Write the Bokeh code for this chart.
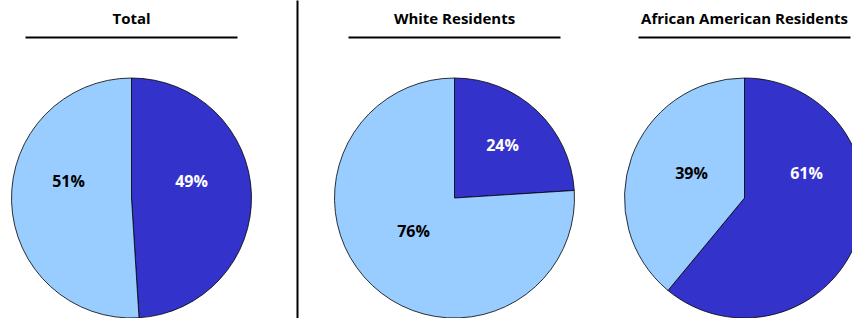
from bokeh.plotting import figure
from bokeh.models import Range1d, ColumnDataSource
from bokeh.core.properties import value
from bokeh.embed import file_html
from bokeh.resources import INLINE
import math

# ---- data ----
titles = ["Total", "White Residents", "African American Residents"]
categories = ["Dark", "Light"]
dark_share = [49, 24, 61]     # dark blue slice (%)
light_share = [51, 76, 39]    # light blue slice (%)

# ---- layout (page pixel space) ----
W, H = 852, 318
centers_x = [131, 454, 744]
center_y_page = 197.5
R = 120
label_pos = [((191, 180), (68, 180.5)),
             ((502, 144), (413, 230)),
             ((806, 172), (691, 172))]
DARK = "#3333CC"
LIGHT = "#99CCFF"
FONT = "Open Sans"

def py(yp):
    return H - yp

p = figure(width=W, height=H, output_backend="svg", toolbar_location=None,
           x_range=Range1d(0, W), y_range=Range1d(0, H),
           min_border=0, outline_line_color=None, background_fill_color="white",
           border_fill_color="white")
p.axis.visible = False
p.grid.visible = False

for i in range(3):
    cx = centers_x[i]
    cy = py(center_y_page)
    vals = [dark_share[i], light_share[i]]
    total = sum(vals)
    starts, ends = [], []
    acc = 0.0
    for v in vals:
        a0 = math.pi / 2 - 2 * math.pi * acc / total
        acc += v
        a1 = math.pi / 2 - 2 * math.pi * acc / total
        starts.append(a0)
        ends.append(a1)
    src = ColumnDataSource(dict(x=[cx, cx], y=[cy, cy], start=starts, end=ends,
                                color=[DARK, LIGHT]))
    p.wedge(x="x", y="y", radius=R, start_angle="start", end_angle="end",
            direction="clock", fill_color="color", line_color="black",
            line_width=0.8, source=src)

    # labels
    (dx, dy), (lx, ly) = label_pos[i]
    lsrc = ColumnDataSource(dict(x=[dx, lx], y=[py(dy), py(ly)],
                                 t=[f"{dark_share[i]}%", f"{light_share[i]}%"],
                                 c=["white", "black"]))
    p.text(x="x", y="y", text="t", text_color="c", source=lsrc,
           text_font=value(FONT), text_font_style="bold", text_font_size="16px",
           text_align="center", text_baseline="middle")

    # title
    p.text(x=[cx], y=[py(17)], text=[titles[i]], text_color="black",
           text_font=value(FONT), text_font_style="bold", text_font_size="15px",
           text_align="center", text_baseline="middle")
    p.segment(x0=[cx - 106], y0=[py(37)], x1=[cx + 106], y1=[py(37)],
              line_color="black", line_width=2)

# vertical separator
p.segment(x0=[297], y0=[py(-5)], x1=[297], y1=[py(330)], line_color="black", line_width=2)

open("out.html", "w").write(file_html(p, INLINE))
